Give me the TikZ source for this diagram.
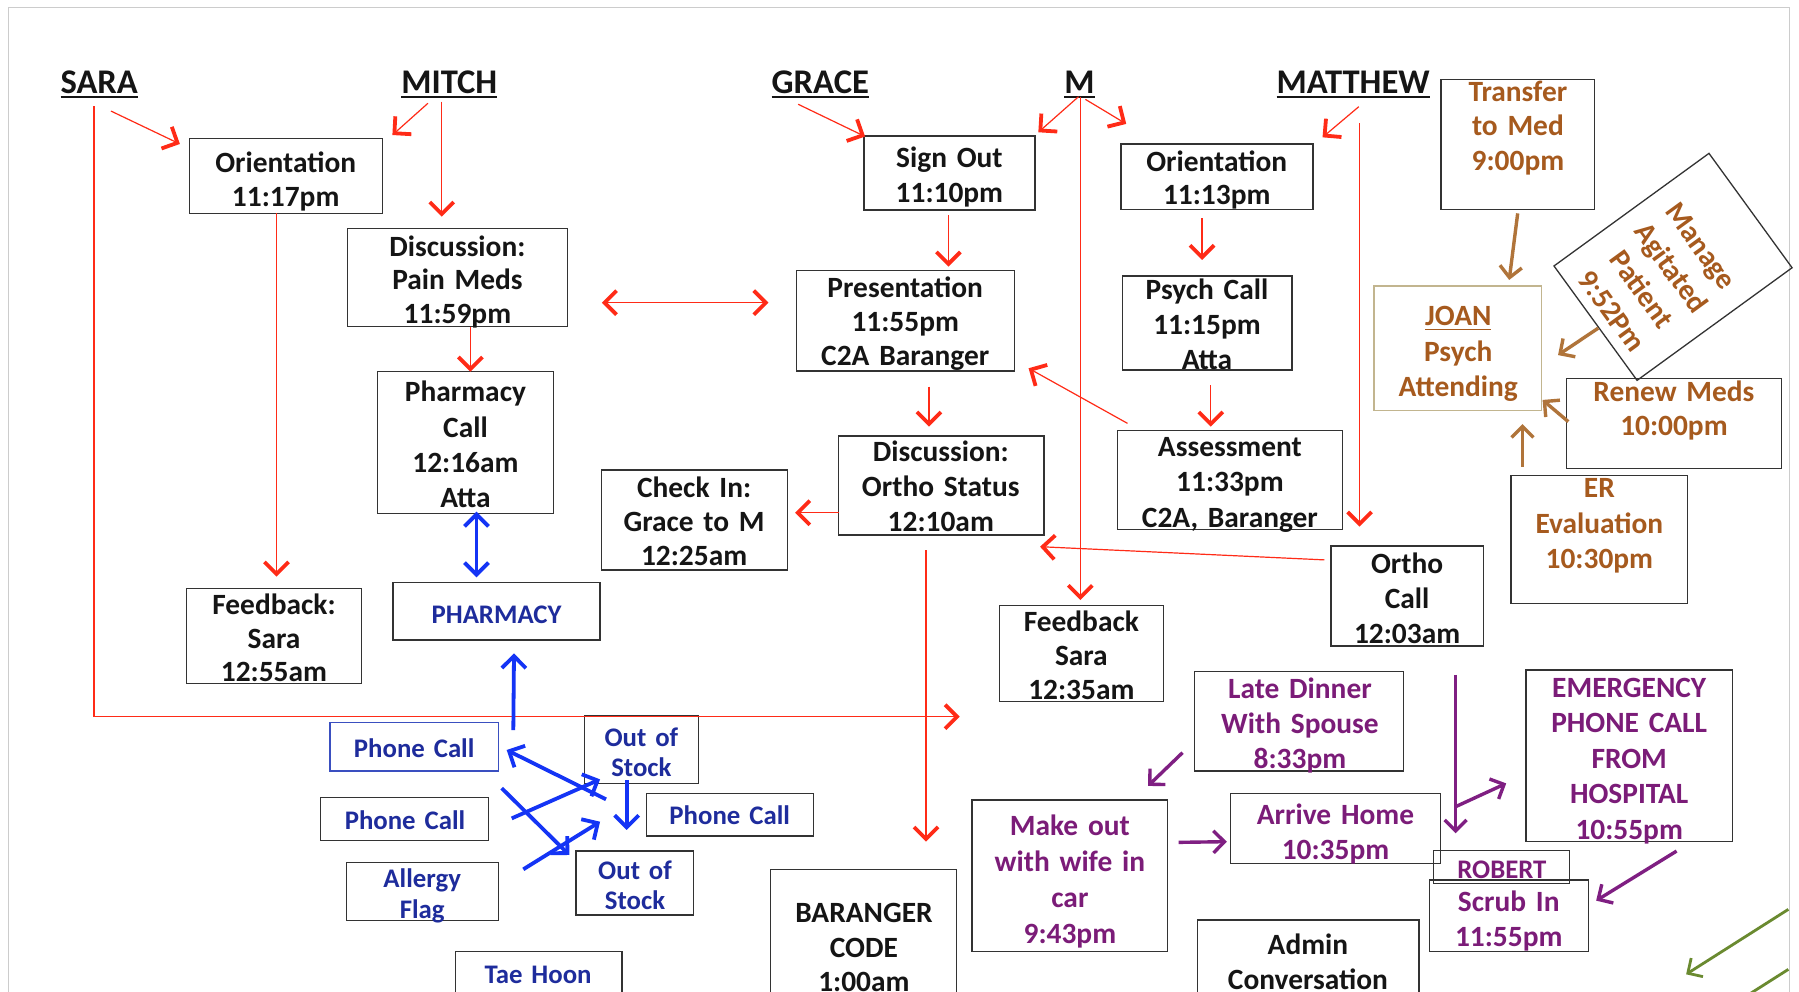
\documentclass[tikz,border=0pt]{standalone}
\usepackage{fontspec}
\setmainfont{Carlito}
\usetikzlibrary{arrows.meta,fit}
\definecolor{redA}{HTML}{FF2B17}
\definecolor{blueA}{HTML}{1434F5}
\definecolor{blueT}{HTML}{1E2C9C}
\definecolor{blueB}{HTML}{3A4FC0}
\definecolor{brownT}{HTML}{A65A1E}
\definecolor{brownA}{HTML}{B0743A}
\definecolor{khaki}{HTML}{C2B58F}
\definecolor{purpT}{HTML}{7B1C78}
\definecolor{purpA}{HTML}{7F1F82}
\definecolor{greenA}{HTML}{6A8A30}
\definecolor{boxc}{HTML}{333333}
\definecolor{txtK}{HTML}{151515}
\definecolor{frameG}{HTML}{CCCCCC}
\newcommand{\hul}[2][1pt]{\setbox0=\hbox{#2}\rlap{\rule[-2.3pt]{\wd0}{#1}}\box0}
\begin{document}
\begin{tikzpicture}[x=0.5737pt,y=-0.5737pt,
 bx/.style={draw=boxc, line width=0.65pt, inner sep=0pt},
 tx/.style={anchor=base, text width=220pt, align=center, inner sep=0pt, text=txtK, font=\fontsize{14.7}{#1}\selectfont\bfseries},
 tx/.default=17.4,
 sm/.style={anchor=base, text width=150pt, align=center, inner sep=0pt, text=blueT, font=\fontsize{13.4}{#1}\selectfont\bfseries},
 sm/.default=15.2,
 hd/.style={anchor=base, inner sep=0pt, text=txtK, font=\fontsize{17.3}{20}\selectfont\bfseries},
 ra/.style={draw=redA, line width=0.6pt, -{Straight Barb[length=6pt,width=12pt,line width=1.9pt]}},
 rdd/.style={draw=redA, line width=0.6pt, {Straight Barb[length=6pt,width=12pt,line width=1.9pt]}-{Straight Barb[length=6pt,width=12pt,line width=1.9pt]}},
 ba/.style={draw=blueA, line width=1.9pt, -{Straight Barb[length=6pt,width=12pt]}},
 bdd/.style={draw=blueA, line width=1.9pt, {Straight Barb[length=6pt,width=12pt]}-{Straight Barb[length=6pt,width=12pt]}},
 na/.style={draw=brownA, line width=1.7pt, -{Straight Barb[length=5.5pt,width=11pt]}},
 pa/.style={draw=purpA, line width=1.7pt, -{Straight Barb[length=5.5pt,width=11pt]}},
 ga/.style={draw=greenA, line width=1.4pt, -{Straight Barb[length=5.5pt,width=11pt]}}
]
\useasboundingbox (0,0) rectangle (1568,864);
\clip (0,0) rectangle (1568,864);
\fill[white] (0,0) rectangle (1568,864);
% slide frame
\draw[frameG, line width=0.5pt] (7.3,900) -- (7.3,6.4) -- (1560,6.4) -- (1560,900);

% headers
\node[hd] (sara) at (86.5,81.4) {\hul{SARA}};
\node[hd] (mitch) at (391.6,81.4) {\hul{MITCH}};
\node[hd] (grace) at (715,81.4) {\hul{GRACE}};
\node[hd] (mm) at (940.8,81.4) {\hul{M}};
\node[hd] (matthew) at (1179.4,81.4) {\hul{MATTHEW}};

% black boxes
\node[bx, fit={(165,121) (333.5,186)}] (or1) {};
\node[tx=16.7] at (249,150.6) {Orientation\\11:17pm};
\node[bx, fit={(303,199) (494.5,284.7)}] (dp) {};
\node[tx=16.9] at (398.7,223.3) {Discussion:\\Pain Meds\\11:59pm};
\node[bx, fit={(329.2,324) (482.3,447.4)}] (ph) {};
\node[tx=17.7] at (405.7,350.2) {Pharmacy\\Call\\12:16am\\Atta};
\node[bx, fit={(162.4,512.8) (315.2,595.5)}] (fs) {};
\node[tx=16.8] at (238.8,535.6) {Feedback:\\Sara\\12:55am};
\node[bx, fit={(342.6,507.6) (523,557.8)}] (pharm) {};
\node[sm] at (432.8,543.3) {PHARMACY};
\node[bx, fit={(753,118.5) (902,183)}] (so) {};
\node[tx=17.5] at (827.5,146.3) {Sign Out\\11:10pm};
\node[bx, fit={(694,236) (884,323.4)}] (pr) {};
\node[tx=17.0] at (789,259.6) {Presentation\\11:55pm\\C2A Baranger};
\node[bx, fit={(730.8,380) (910,466.3)}] (do) {};
\node[tx=17.4] at (820,402.5) {Discussion:\\Ortho Status\\12:10am};
\node[bx, fit={(524,409.7) (686.4,496.8)}] (ci) {};
\node[tx=17.2] at (605,433.3) {Check In:\\Grace to M\\12:25am};
\node[bx, fit={(977,125.5) (1144.3,182.5)}] (om) {};
\node[tx=16.9] at (1060.5,149.2) {Orientation\\11:13pm};
\node[bx, fit={(978.3,240.6) (1126,322.5)}] (pc) {};
\node[tx=17.4] at (1052,261) {Psych Call\\11:15pm\\Atta};
\node[bx, fit={(974,375.4) (1170,461.4)}] (as) {};
\node[tx=17.9] at (1072,397.6) {Assessment\\11:33pm\\C2A, Baranger};
\node[bx, fit={(1160,476) (1292.8,563)}] (oc) {};
\node[tx=17.4] at (1226.4,500) {Ortho\\Call\\12:03am};
\node[bx, fit={(871,527.6) (1014,611.6)}] (fm) {};
\node[tx=17.2] at (942.5,550) {Feedback\\Sara\\12:35am};
\node[bx, fit={(1044,801.9) (1236.7,900)}] (ad) {};
\node[tx=17.6] at (1140,832) {Admin\\Conversation};
\node[bx, fit={(671.4,757.7) (833.9,900)}] (bc) {};
\node[tx=17.3] at (753,804.3) {BARANGER\\CODE\\1:00am};

% brown group
\node[bx, fit={(1256,69) (1390,182.5)}] (tr) {};
\node[tx=17.4, text=brownT] at (1323,88.2) {Transfer\\to Med\\9:00pm};
\node[bx, draw=khaki, fit={(1197.6,249.3) (1343.8,358)}] (jo) {};
\node[tx=17.6, text=brownT] at (1271,284) {\hul[0.8pt]{JOAN}\\Psych\\Attending};
\node[bx, rotate=-54, minimum width=70.7pt, minimum height=95.8pt] (ma) at (1458.2,232.6) {};
\node[tx=18.4, text=brownT, anchor=center, rotate=-54, text width=90pt] at (1443.6,243) {Manage\\Agitated\\Patient\\9:52Pm};
\node[bx, fit={(1365.5,329.8) (1553,408.2)}] (rm) {};
\node[tx=17.4, text=brownT] at (1459,349.6) {Renew Meds\\10:00pm};
\node[bx, fit={(1317,414.6) (1471,525.8)}] (er) {};
\node[tx=17.7, text=brownT] at (1394,433.9) {ER\\Evaluation\\10:30pm};

% purple group
\node[bx, fit={(1041,585.4) (1223.4,672)}] (ld) {};
\node[tx=17.5, text=purpT] at (1133,608.8) {Late Dinner\\With Spouse\\8:33pm};
\node[bx, fit={(1330,584) (1510.2,733.6)}] (em) {};
\node[tx=17.8, text=purpT] at (1420,607.6) {EMERGENCY\\PHONE CALL\\FROM\\HOSPITAL\\10:55pm};
\node[bx, fit={(847.2,697.3) (1017.3,829.5)}] (mo) {};
\node[tx=18.0, text=purpT] at (932.5,728) {Make out\\with wife in\\car\\9:43pm};
\node[bx, fit={(1072.6,691.5) (1255.4,752.5)}] (ah) {};
\node[tx=17.3, text=purpT] at (1164,718.6) {Arrive Home\\10:35pm};
\node[bx, fit={(1249.4,741.5) (1367.8,769.9)}] (rb) {};
\node[sm, text=purpT] at (1309,765.6) {ROBERT};
\node[bx, fit={(1246,767) (1384.5,829.5)}] (sc) {};
\node[tx=17.6, text=purpT] at (1315,794.2) {Scrub In\\11:55pm};

% blue group
\node[bx, draw=blueB, fit={(287.5,629.6) (434.3,672)}] (p1) {};
\node[sm] at (361,660) {Phone Call};
\node[bx, fit={(279.5,695) (426,732.7)}] (p2) {};
\node[sm] at (353,723.4) {Phone Call};
\node[bx, fit={(301.9,752) (434.3,802)}] (al) {};
\node[sm] at (368,773.8) {Allergy\\Flag};
\node[bx, fit={(509.3,624) (608.7,682.8)}] (os1) {};
\node[sm] at (559,650.3) {Out of\\Stock};
\node[bx, fit={(502,741.7) (604.3,797.5)}] (os2) {};
\node[sm] at (553.5,766.6) {Out of\\Stock};
\node[bx, fit={(563.6,691.5) (708.8,728.7)}] (p3) {};
\node[sm] at (636,719) {Phone Call};
\node[bx, fit={(397,829.5) (542,900)}] (th) {};
\node[sm] at (469,857) {Tae Hoon};

% red connectors
\coordinate (sA) at (96.7,96.8); \coordinate (sB) at (156.8,125.5);
\coordinate (mA) at (373,90); \coordinate (mB) at (342,117.7);
\coordinate (mC) at (385,88.6); \coordinate (mD) at (385,188.9);
\coordinate (oA) at (241,186); \coordinate (oB) at (241,502.6);
\coordinate (dA) at (410,284.7); \coordinate (dB) at (410,324);
\coordinate (xA) at (524.6,263.8); \coordinate (xB) at (669.8,263.8);
\coordinate (sL) at (82,92.4); \coordinate (sR) at (836.5,624.7);
\coordinate (gA) at (695.7,90.9); \coordinate (gB) at (754,119);
\coordinate (mmA) at (940,84.3); \coordinate (mmB) at (905,115.3);
\coordinate (mmC) at (946,86.6); \coordinate (mmD) at (981.6,108);
\coordinate (mmE) at (941.6,84.3); \coordinate (mmF) at (941.6,523);
\coordinate (soA) at (826.6,187.4); \coordinate (soB) at (826.6,232.4);
\coordinate (tA) at (1184.3,93); \coordinate (tB) at (1152.7,119.7);
\coordinate (tC) at (1185,107.5); \coordinate (tD) at (1185,459);
\coordinate (omA) at (1047.7,190.3); \coordinate (omB) at (1047.7,226.6);
\coordinate (pcA) at (1055.3,335.6); \coordinate (pcB) at (1055.3,371.9);
\coordinate (asA) at (982.7,369); \coordinate (asB) at (896.5,321);
\coordinate (prA) at (809.7,337); \coordinate (prB) at (809.7,371.9);
\coordinate (doA) at (731.3,446.9); \coordinate (doB) at (693,446.9);
\coordinate (ocA) at (1154.4,488); \coordinate (ocB) at (906.5,476.5);
\coordinate (doC) at (807.1,479.4); \coordinate (doD) at (807.1,733.6);
\draw[ra] (sA) -- (sB);
\draw[ra] (mA) -- (mB);
\draw[ra] (mC) -- (mD);
\draw[ra] (oA) -- (oB);
\draw[ra] (dA) -- (dB);
\draw[rdd] (xA) -- (xB);
\draw[ra] (sL) |- (sR);
\draw[ra] (gA) -- (gB);
\draw[ra] (mmA) -- (mmB);
\draw[ra] (mmC) -- (mmD);
\draw[ra] (mmE) -- (mmF);
\draw[ra] (soA) -- (soB);
\draw[ra] (tA) -- (tB);
\draw[ra] (tC) -- (tD);
\draw[ra] (omA) -- (omB);
\draw[ra] (pcA) -- (pcB);
\draw[ra] (asA) -- (asB);
\draw[ra] (prA) -- (prB);
\draw[ra] (doA) -- (doB);
\draw[ra] (ocA) -- (ocB);
\draw[ra] (doC) -- (doD);

% blue connectors
\coordinate (bA1) at (415.3,446); \coordinate (bB1) at (415.3,503.2);
\coordinate (bA2) at (447.4,636.3); \coordinate (bB2) at (448,569.5);
\coordinate (bA3) at (528.2,696.7); \coordinate (bB3) at (441.6,653.7);
\coordinate (bA4) at (446,713.3); \coordinate (bB4) at (523,679.3);
\coordinate (bA5) at (437.3,687); \coordinate (bB5) at (496.2,745.2);
\coordinate (bA6) at (456.1,757.7); \coordinate (bB6) at (523,716.2);
\coordinate (bA7) at (546.2,679.9); \coordinate (bB7) at (546.2,723.4);
\draw[bdd] (bA1) -- (bB1);
\draw[ba] (bA2) -- (bB2);
\draw[ba] (bA3) -- (bB3);
\draw[ba] (bA4) -- (bB4);
\draw[ba] (bA5) -- (bB5);
\draw[ba] (bA6) -- (bB6);
\draw[ba] (bA7) -- (bB7);

% brown connectors
\coordinate (nA1) at (1322.8,186); \coordinate (nB1) at (1315.4,244);
\coordinate (nA2) at (1393,286); \coordinate (nB2) at (1358,309.5);
\coordinate (nA3) at (1366.9,367.5); \coordinate (nB3) at (1344.5,348.6);
\coordinate (nA4) at (1327,406.7); \coordinate (nB4) at (1327,369.6);
\draw[na] (nA1) -- (nB1);
\draw[na] (nA2) -- (nB2);
\draw[na] (nA3) -- (nB3);
\draw[na] (nA4) -- (nB4);

% purple connectors
\coordinate (pA1) at (1030.7,656); \coordinate (pB1) at (1000.6,685);
\coordinate (pA2) at (1027.3,734.2); \coordinate (pB2) at (1069.3,733.6);
\coordinate (pA3) at (1268.7,588.3); \coordinate (pB3) at (1268.7,726.3);
\coordinate (pA4) at (1268.7,703.1); \coordinate (pB4) at (1312.8,682.8);
\coordinate (pA5) at (1461.3,741.8); \coordinate (pB5) at (1391.2,785);
\draw[pa] (pA1) -- (pB1);
\draw[pa] (pA2) -- (pB2);
\draw[pa] (pA3) -- (pB3);
\draw[pa] (pA4) -- (pB4);
\draw[pa] (pA5) -- (pB5);

% green connectors
\coordinate (gA1) at (1558.7,792.6); \coordinate (gB1) at (1469.6,849.2);
\coordinate (gA2) at (1558.7,844.9); \coordinate (gB2) at (1469.6,901.5);
\draw[ga] (gA1) -- (gB1);
\draw[ga] (gA2) -- (gB2);
\end{tikzpicture}
\end{document}
